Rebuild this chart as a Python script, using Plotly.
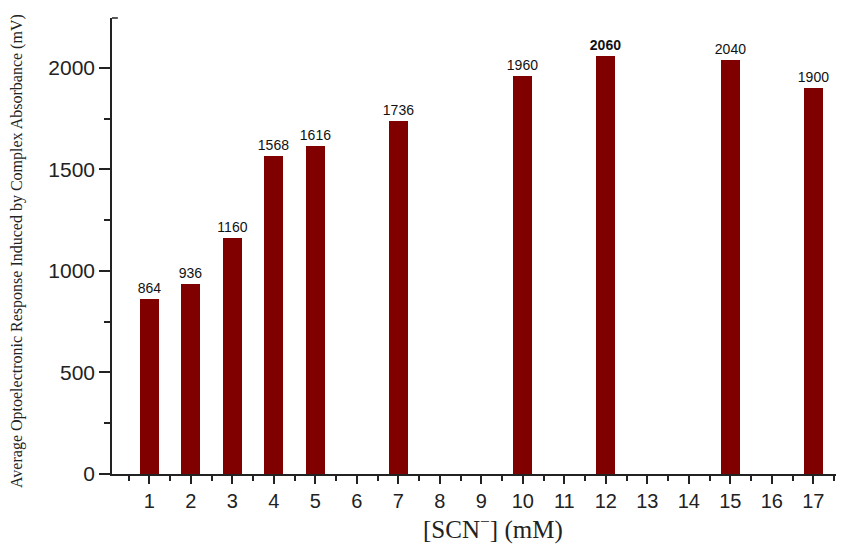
import plotly.graph_objects as go

concentrations = [1, 2, 3, 4, 5, 7, 10, 12, 15, 17]
responses = [864, 936, 1160, 1568, 1616, 1736, 1960, 2060, 2040, 1900]
x_ticks = list(range(1, 18))
y_ticks = [0, 500, 1000, 1500, 2000]

peak = max(responses)
labels = [f"<b>{v}</b>" if v == peak else str(v) for v in responses]

# page body has an 8px default margin: figure sized to fill the rest
PAD = 8
fig = go.Figure()
fig.add_trace(go.Bar(
    x=concentrations,
    y=responses,
    width=0.46,
    marker=dict(color="#800000", line=dict(width=0)),
    text=labels,
    textposition="outside",
    constraintext="none",
    textfont=dict(family="Liberation Sans, Arial", size=14, color="#111111"),
    cliponaxis=False,
))

fig.update_layout(
    width=844 - PAD, height=546 - PAD,
    margin=dict(l=112 - PAD, r=0, t=18 - PAD, b=72),
    plot_bgcolor="white", paper_bgcolor="white",
    showlegend=False,
    bargap=0,
)
fig.update_xaxes(
    range=[0.1, 17.74], automargin=False,
    tickmode="array", tickvals=x_ticks, ticktext=[str(t) for t in x_ticks],
    ticks="outside", ticklen=8, tickwidth=1.5, tickcolor="#222",
    showline=True, linecolor="#222", linewidth=1.5,
    showgrid=False, zeroline=False,
    tickfont=dict(family="Liberation Sans, Arial", size=20, color="#222"),
    minor=dict(ticks="outside", ticklen=5, tickwidth=1.5, tickcolor="#222",
               tickmode="array", tickvals=[v + 0.5 for v in range(0, 18)]),
)
fig.update_yaxes(
    range=[0, 2245], automargin=False,
    tickmode="array", tickvals=y_ticks,
    ticks="outside", ticklen=11, tickwidth=1.5, tickcolor="#222",
    showline=True, linecolor="#222", linewidth=1.5,
    showgrid=False, zeroline=False,
    tickfont=dict(family="Liberation Sans, Arial", size=21, color="#222"),
    minor=dict(ticks="outside", ticklen=6, tickwidth=1.5, tickcolor="#222",
               tickmode="array", tickvals=[250, 750, 1250, 1750]),
)
fig.add_annotation(
    text="[SCN<sup>−</sup>] (mM)", xref="paper", yref="paper",
    x=(493 - 112) / (844 - 112), y=-(527 - 474) / (474 - 18),
    xanchor="center", yanchor="middle", showarrow=False,
    font=dict(family="Liberation Serif, Times New Roman", size=25, color="#222"),
)
fig.add_annotation(
    text="Average Optoelectronic Response Induced by Complex Absorbance (mV)",
    xref="paper", yref="paper",
    x=-(112 - 17) / (844 - 112), y=(474 - 251) / (474 - 18),
    xanchor="center", yanchor="middle", textangle=-90, showarrow=False,
    font=dict(family="Liberation Serif, Times New Roman", size=16, color="#222"),
)
fig.add_shape(type="line", xref="paper", yref="paper", x0=0, x1=0.008, y0=1, y1=1,
              line=dict(color="#222", width=1.5))

fig.write_html("out.html")
